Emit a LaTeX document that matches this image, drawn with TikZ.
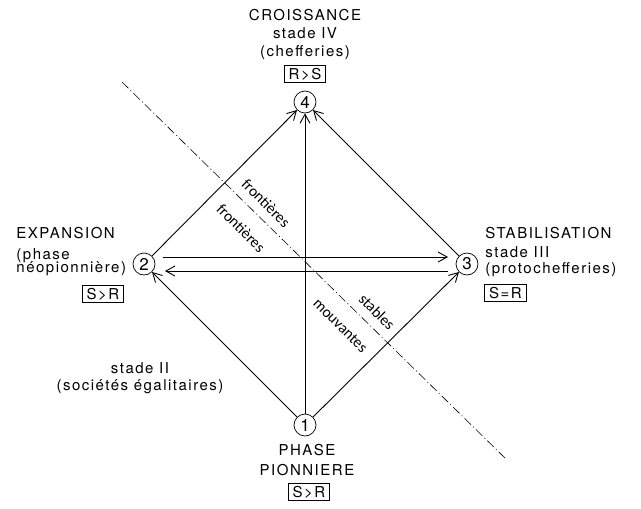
\documentclass[tikz,border=0pt]{standalone}
\usepackage{fontspec}
\setmainfont{TeX Gyre Heros}[LetterSpace=10]
\newfontfamily\limfont{Carlito}
\usetikzlibrary{arrows.meta, positioning, calc}

\tikzset{
  etat/.style={circle, draw, line width=0.7pt, minimum size=22pt, inner sep=0pt,
    font=\fontsize{17}{17}\selectfont},
  rapport/.style={draw, line width=0.7pt, inner xsep=4.5pt, inner ysep=3pt,
    text height=11pt, text depth=0pt, font=\fontsize{15}{15}\selectfont},
  txt/.style={inner sep=0pt, font=\fontsize{15}{16}\selectfont},
  lim/.style={inner sep=0pt, rotate=-45, font=\limfont\fontsize{15.5}{15.5}\selectfont}
}

\begin{document}
\begin{tikzpicture}[x=1pt, y=-1pt, line width=0.9pt, >={Straight Barb[length=9pt,width=10pt]}]
      \useasboundingbox (0,0) rectangle (641,509);

      \coordinate (la) at (122,82);
      \coordinate (lb) at (507,460);
      \draw[line width=0.6pt, dash pattern=on 9pt off 3pt on 1pt off 3pt] (la) -- (lb);

      \node[etat] (s1) at (305,425) {1};
      \node[etat] (s2) at (144,264) {2};
      \node[etat] (s3) at (467,264) {3};
      \node[etat] (s4) at (305,102) {4};

      \draw[->] (s1) -- (s4);
      \draw[->] (s1) -- (s2);
      \draw[->] (s1) -- (s3);
      \draw[->] (s2) -- (s4);
      \draw[->] (s3) -- (s4);
      \draw[->] ($(s2)+(19,-7)$) -- ($(s3)+(-19,-7)$);
      \draw[->] ($(s3)+(-19,7)$) -- ($(s2)+(21,7)$);

      \node[txt, anchor=base] (t4a) at (305,20) {CROISSANCE};
      \node[txt, anchor=base] (t4b) at (305,38) {stade IV};
      \node[txt, anchor=base] (t4c) at (305,56) {(chefferies)};
      \node[rapport] (r4) at (305,74) {R>S};

      \node[txt, anchor=base west] (t2a) at (16,238) {EXPANSION};
      \node[txt, anchor=base west] (t2b) at (16,259.5) {(phase};
      \node[txt, anchor=base west] (t2c) at (16,272.5) {néopionnière)};
      \node[rapport] (r2) at (103,294) {S>R};

      \node[txt, anchor=base west] (t3a) at (485,238) {STABILISATION};
      \node[txt, anchor=base west] (t3b) at (485,257) {stade III};
      \node[txt, anchor=base west] (t3c) at (485,273) {(protochefferies)};
      \node[rapport] (r3) at (505.5,293) {S=R};

      \node[txt, anchor=base] (t1a) at (307,455) {PHASE};
      \node[txt, anchor=base] (t1b) at (307,475) {PIONNIERE};
      \node[rapport] (r1) at (309,492) {S>R};

      \node[txt, anchor=base] (t0a) at (140,373) {stade II};
      \node[txt, anchor=base] (t0b) at (140,390) {(sociétés égalitaires)};

      \node[lim] (fa) at (266,203) {frontières};
      \node[lim] (fb) at (241,228) {frontières};
      \node[lim] (fc) at (377,312) {stables};
      \node[lim] (fd) at (340.5,325.5) {mouvantes};

    \end{tikzpicture}
\end{document}
